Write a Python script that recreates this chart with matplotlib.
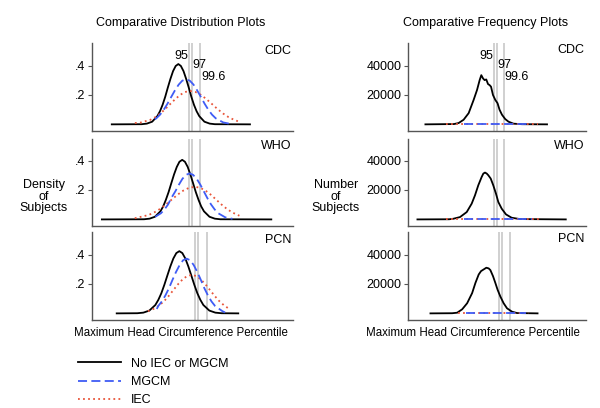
import matplotlib.pyplot as plt
import matplotlib.transforms as mtransforms

plt.rcParams['font.family'] = ['Liberation Sans', 'DejaVu Sans']
plt.rcParams['font.size'] = 9

panel_names = ['CDC', 'WHO', 'PCN']
series_labels = ['No IEC or MGCM', 'MGCM', 'IEC']
percentile_labels = ['95', '97', '99.6']
percentile_z = [1.645, 1.881, 2.652]

density_ticks = [0.2, 0.4]
density_tick_labels = ['.2', '.4']
count_ticks = [20000, 40000]
count_tick_labels = ['20000', '40000']

# x range (z-score units) shown in each row
row_xlims = [(-7.2, 11.07), (-7.2, 11.07), (-6.94, 9.81)]

# ---- CDC: densities ----
cdc_none_x = [-5.4, -2.68, -2.21, -1.73, -1.26, -1.02, -0.78, -0.54, -0.31, -0.07, 0.17, 0.41, 0.65,
              0.88, 1.12, 1.36, 1.60, 1.83, 2.07, 2.31, 2.55, 3.02, 3.50, 3.97, 7.16]
cdc_none_y = [0, 0.001, 0.005, 0.018, 0.056, 0.089, 0.133, 0.188, 0.249, 0.309, 0.362, 0.397, 0.41,
              0.397, 0.362, 0.309, 0.249, 0.188, 0.133, 0.089, 0.056, 0.018, 0.005, 0.001, 0]
cdc_mgcm_x = [-1.49, -1.35, -1.01, -0.68, -0.34, 0.0, 0.34, 0.68, 1.01, 1.35, 1.69, 2.03, 2.36,
              2.70, 3.04, 3.38, 3.71, 4.05, 4.73, 5.40]
cdc_mgcm_y = [0.034, 0.041, 0.066, 0.099, 0.140, 0.186, 0.231, 0.270, 0.297, 0.306, 0.297, 0.270, 0.231,
              0.186, 0.140, 0.099, 0.066, 0.041, 0.013, 0.003]
cdc_iec_x = [-3.3, -2.79, -1.89, -1.44, -0.99, -0.54, -0.09, 0.36, 0.81, 1.26, 1.71, 2.21, 2.71,
             3.21, 3.71, 4.21, 4.71, 5.21, 5.71, 6.1]
cdc_iec_y = [0.009, 0.012, 0.031, 0.049, 0.074, 0.104, 0.138, 0.171, 0.200, 0.220, 0.227, 0.220, 0.200,
             0.171, 0.138, 0.104, 0.074, 0.049, 0.031, 0.020]

# ---- WHO: densities ----
who_none_x = [-6.3, -2.47, -1.97, -1.48, -0.98, -0.73, -0.49, -0.24, 0.01, 0.26, 0.51, 0.75, 1.0,
              1.25, 1.50, 1.74, 1.99, 2.24, 2.49, 2.73, 2.98, 3.48, 3.97, 4.47, 9.1]
who_none_y = [0, 0.001, 0.005, 0.018, 0.055, 0.088, 0.132, 0.185, 0.246, 0.306, 0.357, 0.392, 0.405,
              0.392, 0.357, 0.306, 0.246, 0.185, 0.132, 0.088, 0.055, 0.018, 0.005, 0.001, 0]
who_mgcm_x = [-1.45, -0.93, -0.61, -0.28, -0.01, 0.37, 0.70, 1.02, 1.35, 1.67, 1.99, 2.32, 2.65,
              2.97, 3.30, 3.62, 3.95, 4.27, 4.92, 5.57]
who_mgcm_y = [0.018, 0.042, 0.068, 0.102, 0.143, 0.190, 0.236, 0.276, 0.303, 0.313, 0.303, 0.276, 0.236,
              0.190, 0.143, 0.102, 0.068, 0.042, 0.014, 0.004]
who_iec_x = [-3.31, -2.05, -1.53, -1.0, -0.48, 0.05, 0.58, 1.10, 1.63, 2.15, 2.63, 3.12, 3.60,
             4.08, 4.56, 5.05, 5.53, 6.2]
who_iec_y = [0.008, 0.030, 0.048, 0.072, 0.102, 0.135, 0.168, 0.196, 0.215, 0.222, 0.215, 0.196, 0.168,
             0.135, 0.102, 0.072, 0.048, 0.025]

# ---- PCN: densities ----
pcn_none_x = [-4.88, -3.16, -2.66, -2.16, -1.66, -1.41, -1.16, -0.91, -0.66, -0.41, -0.16, 0.09, 0.34,
              0.59, 0.84, 1.09, 1.34, 1.59, 1.84, 2.09, 2.34, 2.84, 3.34, 3.84, 5.25]
pcn_none_y = [0, 0.001, 0.005, 0.019, 0.057, 0.092, 0.137, 0.194, 0.257, 0.319, 0.373, 0.410, 0.423,
              0.410, 0.373, 0.319, 0.257, 0.194, 0.137, 0.092, 0.057, 0.019, 0.005, 0.001, 0]
pcn_mgcm_x = [-1.54, -1.42, -1.12, -0.83, -0.53, -0.24, 0.06, 0.36, 0.65, 0.95, 1.25, 1.54, 1.84,
              2.14, 2.43, 2.73, 3.02, 3.32, 3.91, 4.15]
pcn_mgcm_y = [0.030, 0.050, 0.081, 0.121, 0.170, 0.226, 0.281, 0.328, 0.361, 0.372, 0.361, 0.328, 0.281,
              0.226, 0.170, 0.121, 0.081, 0.050, 0.016, 0.006]
pcn_iec_x = [-2.28, -1.67, -1.29, -0.91, -0.53, -0.15, 0.23, 0.61, 0.99, 1.37, 1.75, 2.13, 2.51,
             2.89, 3.27, 3.65, 4.03, 4.41]
pcn_iec_y = [0.015, 0.035, 0.057, 0.085, 0.120, 0.159, 0.198, 0.231, 0.254, 0.262, 0.254, 0.231, 0.198,
             0.159, 0.120, 0.085, 0.057, 0.035]

# ---- frequencies (number of subjects) ----
cdc_count_x = [-5.44, -2.5, -2.02, -1.51, -0.99, -0.48, -0.13, 0.14, 0.31, 0.49, 0.65, 0.82, 1.0,
               1.16, 1.31, 1.51, 1.75, 1.98, 2.19, 2.44, 2.77, 3.11, 3.63, 4.5, 7.07]
cdc_count_y = [0, 200, 900, 3140, 7630, 16600, 23350, 30080, 33450, 31200, 30080, 30530, 27390,
               26700, 25600, 19980, 16600, 14370, 9880, 6510, 3590, 1800, 450, 100, 0]
who_count_x = [-6.26, -3.0, -2.56, -1.88, -1.19, -0.68, -0.34, 0.0, 0.35, 0.52, 0.69, 0.87, 1.03,
               1.28, 1.54, 1.82, 2.06, 2.41, 2.85, 3.43, 4.28, 9.0]
who_count_y = [0, 100, 455, 1590, 5000, 10700, 16380, 23200, 28900, 31170, 31850, 31170, 30030,
               27750, 23200, 17500, 11830, 7280, 3410, 1140, 230, 0]
pcn_count_x = [-4.85, -2.8, -2.33, -1.86, -1.39, -0.92, -0.61, -0.30, -0.08, 0.17, 0.42, 0.64, 0.80,
               1.05, 1.27, 1.48, 1.74, 2.05, 2.37, 2.84, 3.31, 5.25]
pcn_count_y = [0, 100, 460, 2760, 6900, 13790, 20690, 26440, 28740, 29890, 31040, 30580, 29430,
               25290, 20690, 16090, 11490, 6900, 3450, 1150, 230, 0]

# MGCM / IEC counts are tiny on this scale: flat at zero over their range
cdc_mgcm_count_x = [-1.49, 5.40]
cdc_iec_count_x = [-3.3, 6.1]
who_mgcm_count_x = [-1.45, 5.57]
who_iec_count_x = [-3.31, 6.2]
pcn_mgcm_count_x = [-1.54, 4.15]
pcn_iec_count_x = [-2.28, 4.41]
zero_counts = [0, 0]

density_rows = [
    (cdc_none_x, cdc_none_y, cdc_mgcm_x, cdc_mgcm_y, cdc_iec_x, cdc_iec_y),
    (who_none_x, who_none_y, who_mgcm_x, who_mgcm_y, who_iec_x, who_iec_y),
    (pcn_none_x, pcn_none_y, pcn_mgcm_x, pcn_mgcm_y, pcn_iec_x, pcn_iec_y),
]
count_rows = [
    (cdc_count_x, cdc_count_y, cdc_mgcm_count_x, cdc_iec_count_x),
    (who_count_x, who_count_y, who_mgcm_count_x, who_iec_count_x),
    (pcn_count_x, pcn_count_y, pcn_mgcm_count_x, pcn_iec_count_x),
]

BLACK = '#000000'
BLUE = '#3f5cf5'
RED = '#e8553a'
VLINE = '#c8c8c8'
SPINE = '#555555'
LW = 1.3
DASHED = (0, (5, 2.4))
DOTTED = (0, (1, 1.8))

fig = plt.figure(figsize=(6.0, 4.08), dpi=100)

row_bottoms = [0.679, 0.446, 0.2157]
row_height = 0.2145
left_x0, left_w = 0.1533, 0.335
right_x0, right_w = 0.6805, 0.296


def style_axes(ax, xlim, ylim, ticks, tick_labels):
    ax.set_xlim(*xlim)
    ax.set_ylim(*ylim)
    ax.set_xticks([])
    ax.set_yticks(ticks)
    ax.set_yticklabels(tick_labels)
    for side in ['top', 'right']:
        ax.spines[side].set_visible(False)
    for side in ['left', 'bottom']:
        ax.spines[side].set_color(SPINE)
        ax.spines[side].set_linewidth(1.0)
    ax.tick_params(axis='y', direction='out', length=3, width=0.8, color=SPINE, pad=2, labelsize=9)
    for z in percentile_z:
        ax.axvline(z, color=VLINE, lw=1.2, zorder=1)


def add_percentile_labels(ax):
    trans = mtransforms.blended_transform_factory(ax.transData, ax.transAxes)
    ax.text(percentile_z[0] - 0.08, 0.855, percentile_labels[0], transform=trans, ha='right', va='center')
    ax.text(percentile_z[1] + 0.05, 0.75, percentile_labels[1], transform=trans, ha='left', va='center')
    ax.text(percentile_z[2] + 0.05, 0.615, percentile_labels[2], transform=trans, ha='left', va='center')


legend_handles = None
for i in range(3):
    # density panel
    ax = fig.add_axes([left_x0, row_bottoms[i], left_w, row_height])
    style_axes(ax, row_xlims[i], (-0.045, 0.55), density_ticks, density_tick_labels)
    nx, ny, mx, my, ix, iy = density_rows[i]
    h_none, = ax.plot(nx, ny, color=BLACK, lw=LW, zorder=3, solid_joinstyle='round')
    h_iec, = ax.plot(ix, iy, color=RED, lw=LW, linestyle=DOTTED, zorder=3)
    h_mgcm, = ax.plot(mx, my, color=BLUE, lw=LW, linestyle=DASHED, zorder=3)
    ax.text(0.993, 0.912, panel_names[i], transform=ax.transAxes, ha='right', va='center')
    if i == 0:
        add_percentile_labels(ax)
        legend_handles = [h_none, h_mgcm, h_iec]

    # frequency panel
    ax = fig.add_axes([right_x0, row_bottoms[i], right_w, row_height])
    style_axes(ax, row_xlims[i], (-4500, 55000), count_ticks, count_tick_labels)
    cx, cy, mcx, icx = count_rows[i]
    ax.plot(cx, cy, color=BLACK, lw=LW, zorder=3, solid_joinstyle='round')
    ax.plot(icx, zero_counts, color=RED, lw=LW, linestyle=DOTTED, zorder=3)
    ax.plot(mcx, zero_counts, color=BLUE, lw=LW, linestyle=DASHED, zorder=3)
    ax.text(0.989, 0.92, panel_names[i], transform=ax.transAxes, ha='right', va='center')
    if i == 0:
        add_percentile_labels(ax)

fig.text(0.3017, 0.9436, 'Comparative Distribution Plots', ha='center', va='center')
fig.text(0.809, 0.9436, 'Comparative Frequency Plots', ha='center', va='center')
fig.text(0.302, 0.183, 'Maximum Head Circumference Percentile', ha='center', va='center', fontsize=8.3)
fig.text(0.789, 0.183, 'Maximum Head Circumference Percentile', ha='center', va='center', fontsize=8.3)
fig.text(0.0725, 0.518, 'Density\nof\nSubjects', ha='center', va='center',
         multialignment='center', linespacing=0.95)
fig.text(0.56, 0.518, 'Number\nof\nSubjects', ha='center', va='center',
         multialignment='center', linespacing=0.95)

fig.legend(legend_handles, series_labels, loc='upper left', bbox_to_anchor=(0.1305, 0.123),
           frameon=False, borderpad=0, borderaxespad=0, handlelength=3.4, handletextpad=0.8,
           labelspacing=0.5)

fig.savefig('out.png', dpi=100)
